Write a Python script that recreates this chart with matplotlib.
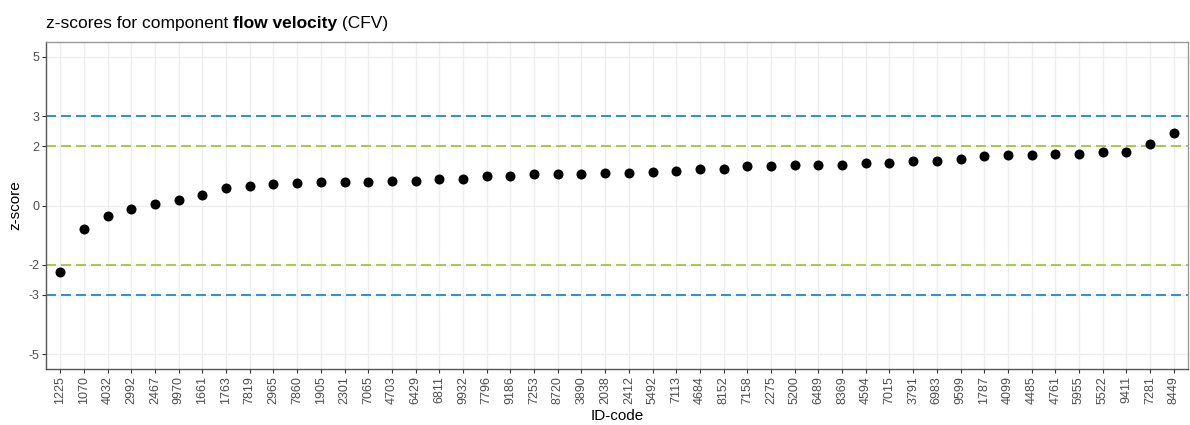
import matplotlib
matplotlib.use("Agg")
import matplotlib.pyplot as plt

plt.rcParams['font.family'] = ['Liberation Sans', 'DejaVu Sans']
plt.rcParams['lines.scale_dashes'] = False

id_codes = ["1225", "1070", "4032", "2992", "2467", "9970", "1661", "1763", "7819", "2965",
            "7860", "1905", "2301", "7065", "4703", "6429", "6811", "9932", "7796", "9186",
            "7253", "8720", "3890", "2038", "2412", "5492", "7113", "4684", "8152", "7158",
            "2275", "5200", "6489", "8369", "4594", "7015", "3791", "6983", "9599", "1787",
            "4099", "4485", "4761", "5955", "5522", "9411", "7281", "8449"]
z_scores = [-2.23, -0.80, -0.35, -0.11, 0.06, 0.20, 0.34, 0.60, 0.67, 0.71,
            0.75, 0.80, 0.80, 0.80, 0.82, 0.82, 0.90, 0.90, 0.98, 0.98,
            1.05, 1.05, 1.07, 1.11, 1.11, 1.13, 1.17, 1.24, 1.24, 1.34,
            1.34, 1.36, 1.36, 1.36, 1.44, 1.44, 1.51, 1.51, 1.58, 1.68,
            1.70, 1.70, 1.73, 1.73, 1.80, 1.80, 2.06, 2.44]
y_ticks = [-5, -3, -2, 0, 2, 3, 5]
warn_limits = [-2, 2]
action_limits = [-3, 3]

W, H = 1190, 425
fig = plt.figure(figsize=(W / 100, H / 100), dpi=100)
ax = fig.add_axes([46 / W, 1 - 369 / H, (1188 - 46) / W, (369 - 42) / H])

x = list(range(len(id_codes)))
ax.set_xlim(-0.6, len(id_codes) - 0.4)
ax.set_ylim(-5.5, 5.5)

ax.set_xticks(x)
ax.set_xticklabels(id_codes, rotation=90, fontsize=9, color='#4d4d4d')
ax.set_yticks(y_ticks)
ax.set_yticklabels([str(v) for v in y_ticks], fontsize=9, color='#4d4d4d')
ax.tick_params(axis='both', length=3, width=0.8, color='#333333', pad=2)

ax.grid(True, color='#ededed', linewidth=0.9, zorder=0)
ax.set_axisbelow(True)

for v in action_limits:
    ax.axhline(v, color='#1a8bd8', linewidth=1.3, dashes=(7.2, 3.6), zorder=2)
for v in warn_limits:
    ax.axhline(v, color='#9bc93a', linewidth=1.3, dashes=(7.2, 3.6), zorder=2)

ax.scatter(x, z_scores, s=52, color='black', zorder=3, linewidths=0)

for side in ['top', 'right']:
    ax.spines[side].set_color('#999999')
    ax.spines[side].set_linewidth(1.0)
for side in ['left', 'bottom']:
    ax.spines[side].set_color('#555555')
    ax.spines[side].set_linewidth(1.0)

ax.set_xlabel("ID-code", fontsize=11, labelpad=4)
ax.set_ylabel("z-score", fontsize=11, labelpad=4)

t1 = fig.text(46 / W, 1 - 28 / H, "z-scores for component ", fontsize=12.5, ha='left', va='baseline')
t2 = ax.annotate("flow velocity", xy=(1, 0), xycoords=t1, fontsize=12.5, fontweight='bold',
                 ha='left', va='bottom', annotation_clip=False)
t3 = ax.annotate(" (CFV)", xy=(1, 0), xycoords=t2, fontsize=12.5,
                 ha='left', va='bottom', annotation_clip=False)

fig.savefig("out.png", dpi=100)
